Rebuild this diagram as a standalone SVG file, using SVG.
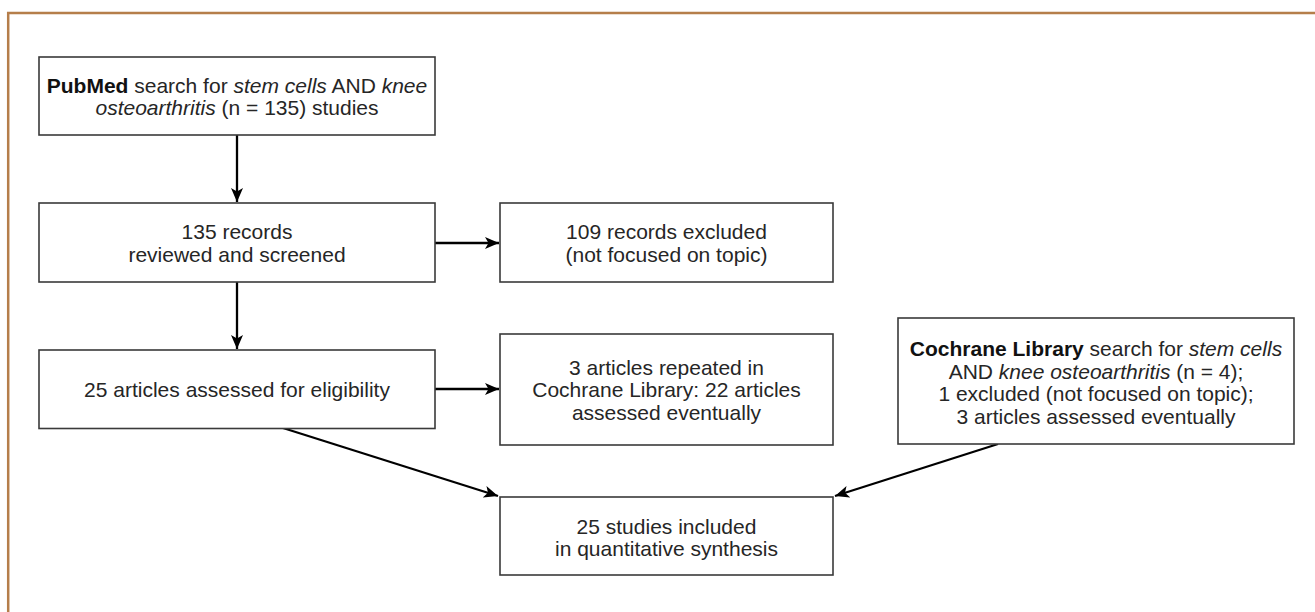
<svg xmlns="http://www.w3.org/2000/svg" width="1315" height="612" viewBox="0 0 1315 612">
<style>
.box{fill:#fff;stroke:#3a3a3a;stroke-width:1.6}
.t{font-family:"Liberation Sans",Arial,Helvetica,sans-serif;font-size:21px;fill:#262626;text-anchor:middle}
.b{font-weight:bold;fill:#111}
.i{font-style:italic}
.c{stroke:#000;stroke-width:2.3;fill:none;marker-end:url(#ah)}
</style>
<defs>
<marker id="ah" markerUnits="userSpaceOnUse" markerWidth="16" markerHeight="14" refX="14" refY="6" orient="auto">
<path d="M0,0 L14,6 L0,12 L3.5,6 Z" fill="#000"/>
</marker>
</defs>
<rect width="1315" height="612" fill="#fff"/>
<path d="M8.2,612 V13 H1315" fill="none" stroke="#b57e4a" stroke-width="2.5"/>
<g id="connectors">
<line class="c" x1="237" y1="135" x2="237" y2="202"/>
<line class="c" x1="237" y1="282" x2="237" y2="349"/>
<line class="c" x1="435" y1="243" x2="499" y2="243"/>
<line class="c" x1="435" y1="389" x2="499" y2="389"/>
<line class="c" x1="283" y1="428" x2="498" y2="496"/>
<line class="c" x1="998" y1="444" x2="835" y2="496"/>
</g>
<g id="pubmed">
<rect class="box" x="39" y="57" width="396" height="78"/>
<text class="t" x="237" y="93"><tspan class="b">PubMed</tspan> search for <tspan class="i">stem cells</tspan> AND <tspan class="i">knee</tspan></text>
<text class="t" x="237" y="115"><tspan class="i">osteoarthritis</tspan> (n = 135) studies</text>
</g>
<g id="screened">
<rect class="box" x="39" y="203" width="396" height="79"/>
<text class="t" x="237" y="239">135 records</text>
<text class="t" x="237" y="262">reviewed and screened</text>
</g>
<g id="excluded">
<rect class="box" x="500" y="203" width="333" height="79"/>
<text class="t" x="666.5" y="239">109 records excluded</text>
<text class="t" x="666.5" y="262">(not focused on topic)</text>
</g>
<g id="eligibility">
<rect class="box" x="39" y="350" width="396" height="78.5"/>
<text class="t" x="237" y="397">25 articles assessed for eligibility</text>
</g>
<g id="repeated">
<rect class="box" x="500" y="334" width="333" height="111"/>
<text class="t" x="666.5" y="375">3 articles repeated in</text>
<text class="t" x="666.5" y="397">Cochrane Library: 22 articles</text>
<text class="t" x="666.5" y="420">assessed eventually</text>
</g>
<g id="cochrane">
<rect class="box" x="898" y="318" width="396" height="126"/>
<text class="t" x="1096" y="356"><tspan class="b">Cochrane Library</tspan> search for <tspan class="i">stem cells</tspan></text>
<text class="t" x="1096" y="379">AND <tspan class="i">knee osteoarthritis</tspan> (n = 4);</text>
<text class="t" x="1096" y="401">1 excluded (not focused on topic);</text>
<text class="t" x="1096" y="424">3 articles assessed eventually</text>
</g>
<g id="included">
<rect class="box" x="500" y="497" width="333" height="78"/>
<text class="t" x="666.5" y="534">25 studies included</text>
<text class="t" x="666.5" y="556">in quantitative synthesis</text>
</g>
</svg>
